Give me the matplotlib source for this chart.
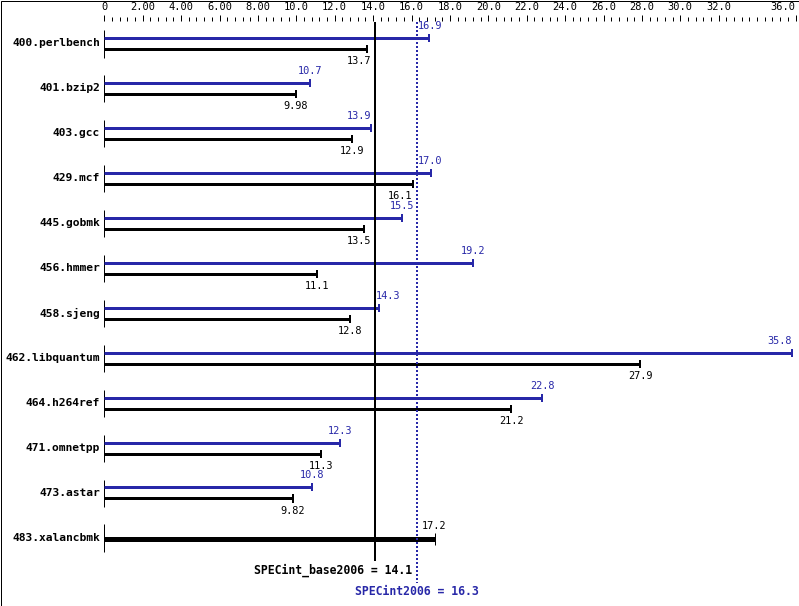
"""
SPEC CPU2006 integer — base vs peak ratio per benchmark
"""
import numpy as np
import matplotlib
matplotlib.use("Agg")
import matplotlib.pyplot as plt
from matplotlib.patches import Rectangle

plt.rcParams["font.family"] = ["DejaVu Sans Mono"]

# data
benchmarks = ["400.perlbench", "401.bzip2", "403.gcc", "429.mcf", "445.gobmk",
              "456.hmmer", "458.sjeng", "462.libquantum", "464.h264ref",
              "471.omnetpp", "473.astar", "483.xalancbmk"]
base_ratio = [13.7, 9.98, 12.9, 16.1, 13.5, 11.1, 12.8, 27.9, 21.2, 11.3, 9.82, 17.2]
peak_ratio = [16.9, 10.7, 13.9, 17.0, 15.5, 19.2, 14.3, 35.8, 22.8, 12.3, 10.8, np.nan]
base_mean = 14.1
peak_mean = 16.3

major_ticks = [0, 2, 4, 6, 8, 10, 12, 14, 16, 18, 20, 22, 24, 26, 28, 30, 32, 36]
major_labels = ["0", "2.00", "4.00", "6.00", "8.00", "10.0", "12.0", "14.0", "16.0",
                "18.0", "20.0", "22.0", "24.0", "26.0", "28.0", "30.0", "32.0", "36.0"]

BLUE = "#2828A8"
BLACK = "#000000"

# layout (pixels)
W, H = 799, 606
X0, XPX = 104.3, 19.2          # pixel of 0, pixels per unit
ROW0, ROWPX = 43.5, 44.95      # pixel of first row, pixels per row
AX_TOP = 21.0
PX = 1 / ROWPX                 # one pixel in row units
PW = 72 / 100                  # one pixel in points

fig = plt.figure(figsize=(W / 100, H / 100), dpi=100)
fig.patch.set_facecolor("white")
ax = fig.add_axes([0, 0, 1, 1 - AX_TOP / H])
ax.set_xlim(-X0 / XPX, (W - X0) / XPX)
ax.set_ylim((H - ROW0) / ROWPX, (AX_TOP - ROW0) / ROWPX)
for s in ax.spines.values():
    s.set_visible(False)
ax.yaxis.set_visible(False)

# top scale
ax.xaxis.tick_top()
ax.set_xticks(major_ticks)
ax.set_xticklabels(major_labels, fontsize=7.5)
minor = [v for v in np.round(np.arange(0, 36.01, 0.4), 1) if min(abs(v - m) for m in major_ticks) > 0.01]
ax.set_xticks(minor, minor=True)
ax.tick_params(axis="x", which="major", direction="out", length=6.5 * PW, width=PW, pad=3 * PW)
ax.tick_params(axis="x", which="minor", direction="out", length=4 * PW, width=PW)
ax.get_xticklabels()[-1].set_ha("right")


def fmt(v):
    return f"{v:.2f}" if v < 10 else f"{v:.1f}"


def label_x(v):
    # nudge value labels off the two mean lines
    for line, gap_l, gap_r in [(base_mean, 0.19, 0.05), (peak_mean, 0.28, 0.05)]:
        if abs(v - line) < 0.8:
            return (line - gap_l, "right") if v < line else (line + gap_r, "left")
    if v > 34:
        return v, "right"
    return v, "center"


n = len(benchmarks)
for i, (name, b, p) in enumerate(zip(benchmarks, base_ratio, peak_ratio)):
    ax.text(-4.3 / XPX, i, name, ha="right", va="center",
            fontsize=8.1, fontweight="bold")
    ax.vlines(0, i - 13.5 * PX, i + 14 * PX, color=BLACK, lw=PW)
    if np.isnan(p):
        ax.hlines(i + 1 * PX, 0, b, color=BLACK, lw=5 * PW)
        ax.vlines(b, i - 5 * PX, i + 7 * PX, color=BLACK, lw=PW)
        x, ha = label_x(b)
        ax.text(x, i - 12 * PX, fmt(b), ha=ha, va="center", fontsize=7.4, color=BLACK)
        continue
    yp, yb = i - 5.5 * PX, i + 5.5 * PX
    ax.hlines(yp, 0, p, color=BLUE, lw=3 * PW)
    ax.vlines(p, yp - 4 * PX, yp + 4 * PX, color=BLUE, lw=2 * PW)
    ax.hlines(yb, 0, b, color=BLACK, lw=3 * PW)
    ax.vlines(b, yb - 4 * PX, yb + 4 * PX, color=BLACK, lw=2 * PW)
    x, ha = label_x(p)
    ax.text(x, yp - 12 * PX, fmt(p), ha=ha, va="center", fontsize=7.4, color=BLUE)
    x, ha = label_x(b)
    ax.text(x, yb + 12 * PX, fmt(b), ha=ha, va="center", fontsize=7.4, color=BLACK)

# mean lines
top = (AX_TOP + 1 - ROW0) / ROWPX
ax.vlines(base_mean, top, n - 1 + 0.52, color=BLACK, lw=2 * PW)
ax.vlines(peak_mean, top, n - 1 + 1.0, color=BLUE, lw=2 * PW, linestyles=(0, (1, 1)))
ax.text(peak_mean - 0.25, n - 1 + 0.72, f"SPECint_base2006 = {base_mean}", ha="right",
        va="center", fontsize=8.3, fontweight="bold", color=BLACK)
ax.text(peak_mean, n - 1 + 1.2, f"SPECint2006 = {peak_mean}", ha="center",
        va="center", fontsize=8.3, fontweight="bold", color=BLUE)

# outer frame
fig.patches.append(Rectangle((0.5 / W, 0.5 / H), 1 - 1 / W, 1 - 1 / H, transform=fig.transFigure,
                             fill=False, edgecolor="black", lw=PW))

fig.savefig("out.png", dpi=100)
